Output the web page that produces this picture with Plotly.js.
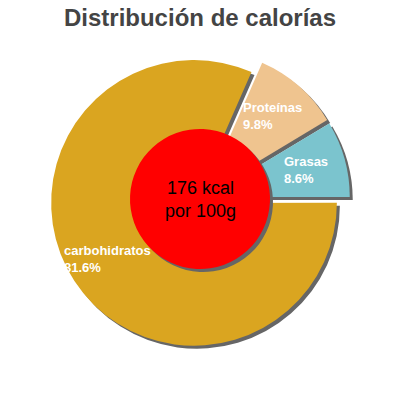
<!DOCTYPE html>
<html>
<head>
<meta charset="utf-8">
<script src="https://cdn.plot.ly/plotly-3.0.1.min.js"></script>
<style>
  html, body { margin: 0; padding: 0; background: #fff; }
  #chart { width: 400px; height: 400px; }
</style>
</head>
<body>
<div id="chart"></div>
<script>
(function () {
    'use strict';

    // calorie split
    const labels = ['Grasas', 'Proteínas', 'carbohidratos'];
    const percents = [8.6, 9.8, 81.6];
    const colors = ['#7BC4CE', '#EFC48F', '#DAA520'];
    const centerText = '176 kcal<br>por 100g';

    const font = 'Liberation Sans, Arial, sans-serif';
    const dom = { x: [0.125, 0.875], y: [0.1275, 0.8775] };
    const hole = { x: [0.325, 0.675], y: [0.3275, 0.6775] };
    const sh = 3 / 400; // shadow offset

    const shift = function (d) {
        return { x: [d.x[0] + sh, d.x[1] + sh], y: [d.y[0] - sh, d.y[1] - sh] };
    };

    const common = {
        type: 'pie',
        sort: false,
        direction: 'counterclockwise',
        rotation: 59,
        hoverinfo: 'skip',
        showlegend: false,
        textinfo: 'none'
    };

    const shadow = Object.assign({}, common, {
        labels: labels,
        values: percents,
        domain: shift(dom),
        pull: [0.05, 0.05, 0.05],
        marker: { colors: ['#666', '#666', '#666'], line: { width: 0 } }
    });

    const main = Object.assign({}, common, {
        labels: labels,
        values: percents,
        domain: dom,
        pull: [0.05, 0.05, 0.05],
        marker: { colors: colors, line: { width: 0 } }
    });

    const redShadow = Object.assign({}, common, {
        values: [1],
        labels: ['kcal'],
        domain: shift(hole),
        marker: { colors: ['#666'], line: { width: 0 } }
    });

    const red = Object.assign({}, common, {
        values: [1],
        labels: ['kcal'],
        domain: hole,
        marker: { colors: ['#FF0000'], line: { width: 0 } }
    });

    // slice labels: centred on each slice's middle angle, lines left aligned
    const total = percents.reduce(function (a, b) { return a + b; }, 0);
    const cx = (dom.x[0] + dom.x[1]) / 2;
    const cy = (dom.y[0] + dom.y[1]) / 2;
    const rLab = 110 / 400;
    let acc = 0;
    const annotations = labels.map(function (lab, i) {
        const mid = (acc + percents[i] / 2) / total * 2 * Math.PI;
        acc += percents[i];
        return {
            text: '<b>' + lab + '<br>' + percents[i].toFixed(1) + '%</b>',
            xref: 'paper', yref: 'paper',
            x: cx + rLab * Math.cos(mid),
            y: cy + rLab * Math.sin(mid),
            xanchor: 'center', yanchor: 'middle',
            align: 'left',
            showarrow: false,
            font: { size: 13, color: '#fff', family: font }
        };
    });

    annotations.push({
        text: centerText,
        xref: 'paper', yref: 'paper',
        x: cx, y: cy,
        xanchor: 'center', yanchor: 'middle',
        showarrow: false,
        font: { size: 18, color: '#000', family: font }
    });

    const layout = {
        width: 400,
        height: 400,
        margin: { l: 0, r: 0, t: 0, b: 0 },
        paper_bgcolor: '#fff',
        annotations: annotations,
        title: {
            text: '<b>Distribución de calorías</b>',
            x: 0.5,
            y: 0.955,
            xanchor: 'center',
            yanchor: 'middle',
            font: { size: 24, color: '#444', family: font }
        }
    };

    Plotly.newPlot('chart', [shadow, main, redShadow, red], layout, { displayModeBar: false, staticPlot: true });
}());
</script>
</body>
</html>
